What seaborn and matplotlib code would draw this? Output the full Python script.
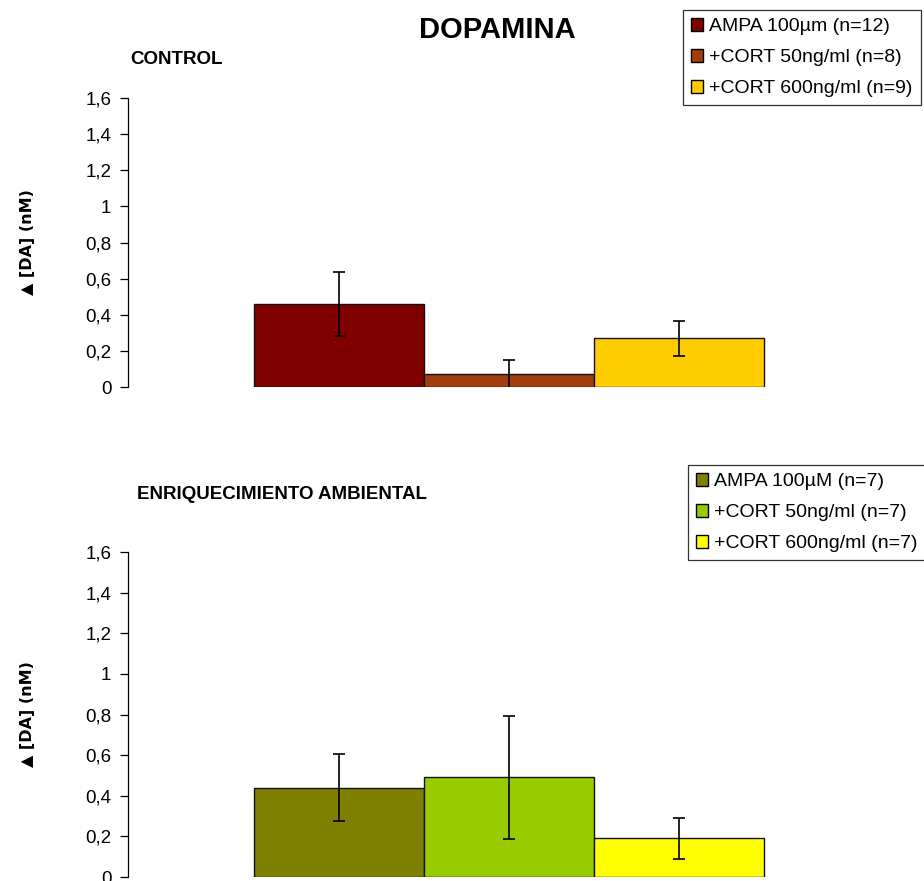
import pandas as pd
import matplotlib.pyplot as plt
import seaborn as sns

# valores
grupos = ["AMPA", "CORT50", "CORT600"]
control_media = [0.46, 0.07, 0.27]
control_err = [0.178, 0.08, 0.097]
control_labels = ["AMPA 100µm (n=12)", "+CORT 50ng/ml (n=8)", "+CORT 600ng/ml (n=9)"]
control_colores = ["#800000", "#A23D0C", "#FFCC00"]

enriq_media = [0.44, 0.49, 0.19]
enriq_err = [0.165, 0.305, 0.10]
enriq_labels = ["AMPA 100µM (n=7)", "+CORT 50ng/ml (n=7)", "+CORT 600ng/ml (n=7)"]
enriq_colores = ["#808000", "#99CC00", "#FFFF00"]

yticks = [0, 0.2, 0.4, 0.6, 0.8, 1, 1.2, 1.4, 1.6]
ytick_labels = ["0", "0,2", "0,4", "0,6", "0,8", "1", "1,2", "1,4", "1,6"]

sns.set_style("white")
plt.rcParams['font.family'] = ['Liberation Sans', 'DejaVu Sans']
plt.rcParams['text.color'] = 'black'
plt.rcParams['axes.labelcolor'] = 'black'
plt.rcParams['ytick.color'] = 'black'

fig = plt.figure(figsize=(9.24, 8.81), dpi=100)
ax1 = fig.add_axes([128/924, 1-387/881, 762/924, 289/881])
ax2 = fig.add_axes([128/924, 1-877/881, 762/924, 325/881])


def panel(ax, media, err, labels, colores, legend_right, legend_top):
    df = pd.DataFrame({"grupo": grupos, "valor": media})
    sns.barplot(data=df, x="grupo", y="valor", hue="grupo", palette=colores,
                saturation=1, width=1.0, edgecolor="#111111", linewidth=1.0,
                legend=False, ax=ax)
    ax.errorbar(range(len(grupos)), media, yerr=err, fmt="none", ecolor="black",
                elinewidth=1.2, capsize=4.5, capthick=1.2)
    ax.set_xlim(1 - 2.24, 1 + 2.24)
    ax.set_ylim(0, 1.6)
    ax.set_yticks(yticks)
    ax.set_yticklabels(ytick_labels, fontsize=13.5)
    ax.set_xticks([])
    ax.set_xlabel("")
    ax.set_ylabel("▲ [DA] (nM)", fontsize=11.5, fontweight="bold",
                  family=['DejaVu Sans'])
    ax.yaxis.set_label_coords((35 - 128) / 762, 0.5)
    for s in ["top", "right", "bottom"]:
        ax.spines[s].set_visible(False)
    ax.spines["left"].set_color("black")
    ax.spines["left"].set_linewidth(0.9)
    ax.tick_params(axis="y", direction="out", length=6, width=0.9, color="black",
                   left=True, pad=6)
    handles = [plt.Rectangle((0, 0), 1, 1, facecolor=c, edgecolor="black", linewidth=1)
               for c in colores]
    leg = fig.legend(handles, labels, loc="upper right",
                     bbox_to_anchor=(legend_right, legend_top), fontsize=14,
                     frameon=True, fancybox=False, edgecolor="black",
                     handlelength=0.6, handleheight=0.6, handletextpad=0.35,
                     labelspacing=0.72, borderpad=0.42, borderaxespad=0)
    leg.get_frame().set_linewidth(0.9)


panel(ax1, control_media, control_err, control_labels, control_colores,
      921/924, 1 - 10/881)
panel(ax2, enriq_media, enriq_err, enriq_labels, enriq_colores,
      926/924, 1 - 465/881)

fig.text(497/924, 1 - 30/881, "DOPAMINA", fontsize=21, fontweight="bold",
         ha="center", va="center")
fig.text(130/924, 1 - 60/881, "CONTROL", fontsize=13.5, fontweight="bold",
         ha="left", va="center")
fig.text(137/924, 1 - 494/881, "ENRIQUECIMIENTO AMBIENTAL", fontsize=13.5,
         fontweight="bold", ha="left", va="center")

fig.savefig("out.png", dpi=100, facecolor="white")
